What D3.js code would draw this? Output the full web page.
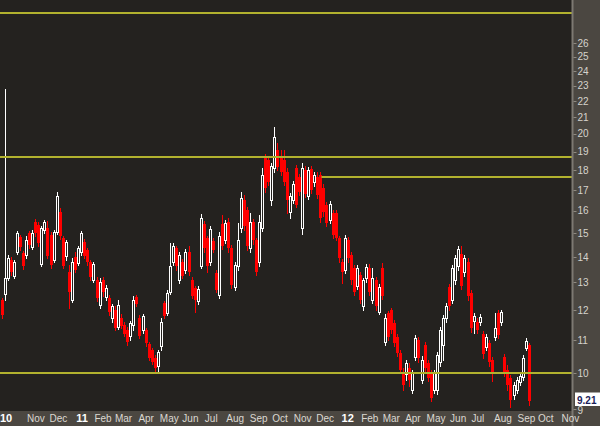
<!DOCTYPE html>
<html><head><meta charset="utf-8">
<script src="https://cdn.jsdelivr.net/npm/d3@7"></script>
<style>html,body{margin:0;padding:0;background:#24221f;overflow:hidden}svg{display:block}</style>
</head><body><svg id="c" width="600" height="426"></svg>
<script>
// ---------- data ----------
const firstSession = "2010-09-29";   // first session shown
const sessionStep = 3;               // weekdays between plotted candles
const open = [
12.36,12.58,13.17,13.88,13.25,14.20,14.83,14.16,14.08,15.01,
14.41,15.49,15.36,13.72,15.14,15.23,14.92,13.88,15.05,15.95,
14.79,14.04,13.40,12.36,14.00,13.76,14.20,14.62,14.28,13.80,
13.09,13.09,12.18,13.09,12.47,12.43,11.73,12.00,11.43,11.73,
11.50,11.33,11.13,11.50,12.47,11.73,11.33,11.33,10.88,10.69,
10.44,10.21,10.82,12.25,11.90,12.65,13.80,14.36,13.09,13.80,
13.48,14.20,13.09,12.79,12.32,13.64,15.40,14.79,13.80,14.66,
13.36,12.54,15.40,14.70,15.49,14.36,12.83,13.64,15.23,16.51,
16.04,14.36,15.49,14.70,13.80,15.23,18.71,18.54,16.51,18.12,
19.09,18.71,18.54,17.91,15.95,16.51,18.12,17.65,15.23,18.01,
16.71,18.06,17.40,17.65,17.75,17.10,16.28,15.58,15.90,15.90,
14.79,13.80,13.48,14.70,14.08,13.56,12.86,13.29,12.14,13.17,
13.56,12.36,13.09,11.93,13.56,10.94,11.90,12.00,11.56,11.10,
10.60,10.03,9.97,10.15,9.52,10.47,11.00,9.80,10.85,10.29,
10.00,9.52,9.52,10.32,10.85,11.73,12.83,12.36,13.09,13.64,
14.12,13.40,13.80,12.61,11.63,11.59,11.59,11.20,10.79,10.91,
10.38,11.10,11.90,11.59,10.47,10.09,9.86,9.38,9.52,9.74,
9.89,10.75,10.85];
const high = [
12.43,22.78,14.08,14.00,13.88,15.10,14.92,14.24,14.88,15.10,
15.14,15.63,15.49,15.32,15.58,15.53,15.05,15.14,16.90,16.13,
14.88,14.70,13.68,13.96,14.20,14.45,15.10,14.74,14.36,13.88,
13.80,13.21,13.17,13.21,12.90,12.54,12.22,12.14,12.36,11.86,
11.59,11.43,11.63,12.50,12.54,11.83,11.86,11.40,10.94,10.75,
10.53,10.69,11.73,12.32,12.72,14.57,14.57,14.45,14.20,13.92,
14.32,14.45,13.21,12.86,12.86,15.86,15.53,14.88,15.32,14.79,
13.48,15.05,15.81,15.58,15.67,14.49,13.80,15.45,16.90,16.75,
16.18,15.90,15.63,14.79,15.81,18.12,18.88,18.71,18.38,20.41,
19.48,19.09,19.09,18.12,16.85,17.45,18.27,17.80,18.38,18.22,
18.17,18.22,17.91,17.91,17.91,17.30,16.42,16.47,16.04,16.04,
14.88,13.92,14.92,14.83,14.20,13.68,13.68,13.40,13.17,13.72,
13.72,13.56,13.21,12.94,13.76,11.86,11.97,12.07,11.66,11.20,
10.69,10.15,10.38,10.29,10.09,11.17,11.10,10.50,10.94,10.38,
10.09,10.09,10.63,11.43,11.83,12.25,12.94,13.68,14.08,14.45,
14.45,14.08,13.96,12.72,11.90,11.73,11.86,11.30,11.20,11.00,
10.47,11.90,12.00,12.00,10.57,10.23,9.94,9.74,9.89,10.00,
10.53,11.07,10.91];
const low = [
11.73,12.36,13.09,13.29,13.17,14.12,14.28,13.52,13.96,14.36,
14.32,14.88,14.45,13.64,15.01,13.96,13.56,13.80,14.96,14.74,
13.56,13.88,12.07,12.29,13.40,13.68,14.08,13.96,13.68,13.09,
13.02,12.32,12.07,12.50,12.36,11.83,11.59,11.33,11.36,11.40,
11.13,10.85,11.00,11.33,12.14,11.07,11.23,10.82,10.38,10.26,
10.03,10.03,10.69,11.73,11.83,12.58,13.68,13.48,12.98,13.17,
13.36,13.29,12.43,11.93,12.22,13.56,14.20,13.40,13.68,14.20,
12.65,12.43,14.32,14.57,14.20,12.79,12.72,13.48,15.05,15.14,
14.28,14.20,14.53,13.29,13.64,15.10,16.90,17.25,16.28,17.91,
18.01,17.75,17.25,15.90,15.67,16.37,16.18,16.75,14.96,16.66,
16.56,16.85,17.20,16.61,15.49,15.76,15.32,15.45,14.79,14.70,
13.80,12.98,13.36,13.80,12.94,12.54,12.76,12.25,12.00,13.02,
12.54,12.25,12.00,11.86,12.39,10.85,11.00,11.23,10.82,10.50,
10.00,9.52,9.80,9.63,9.44,10.38,10.32,9.72,10.03,9.77,
9.22,9.44,9.41,10.21,10.38,11.59,12.00,12.25,12.94,13.48,
12.76,13.25,12.36,11.26,11.23,11.23,11.50,10.44,10.69,10.21,
9.77,11.00,11.07,11.50,9.91,9.52,9.07,9.28,9.44,9.66,
9.80,10.69,9.11];
const close = [
11.83,13.17,13.96,13.40,13.80,15.01,14.41,13.64,14.70,14.49,
15.01,15.01,14.57,15.23,15.49,14.04,13.68,15.05,16.71,14.88,
13.64,14.62,12.65,13.80,13.48,14.36,15.01,14.04,13.80,13.21,
13.72,12.43,13.02,12.65,12.79,11.93,12.14,11.40,12.18,11.46,
11.20,10.94,11.56,12.36,12.22,11.13,11.80,10.91,10.44,10.32,
10.15,10.63,11.59,11.80,12.61,13.64,14.45,13.64,14.08,13.25,
14.20,13.40,12.50,12.36,12.76,15.67,14.36,13.64,15.18,14.28,
12.72,14.88,14.45,15.45,14.36,12.90,13.68,14.70,16.61,15.32,
14.45,15.49,14.70,13.40,15.49,17.75,17.10,17.40,18.22,19.82,
18.17,17.91,17.40,16.51,16.71,17.30,16.28,16.90,18.12,16.80,
18.01,17.00,17.75,16.75,15.67,15.95,15.45,16.32,14.92,14.79,
13.96,13.40,14.79,13.96,13.09,12.65,13.56,12.36,13.09,13.60,
12.65,13.17,12.14,12.83,12.50,11.73,11.10,11.33,10.91,10.60,
10.09,9.66,10.29,9.80,10.00,11.07,10.44,10.38,10.15,9.86,
9.30,10.00,10.53,11.33,11.73,12.14,12.14,13.56,13.96,14.32,
12.86,13.96,12.50,11.40,11.80,11.33,11.76,10.57,11.10,10.32,
9.97,11.40,11.17,11.93,10.03,9.66,9.25,9.66,9.80,9.91,
10.44,10.97,9.21];
const priceTicks = [9,10,11,12,13,14,15,16,17,18,19,20,21,22,23,24,25,26];
const fullLevels = [28.39, 18.70, 10.00];
const partialLevels = [17.65];
const partialLevelFrom = ["2011-12-12"];
const lastPrice = 9.21;
const monthLabels = ["Jan","Feb","Mar","Apr","May","Jun","Jul","Aug","Sep","Oct","Nov","Dec"];
const axisMonths = ["2010-10","2010-11","2010-12","2011-01","2011-02","2011-03","2011-04","2011-05","2011-06","2011-07","2011-08","2011-09","2011-10","2011-11","2011-12","2012-01","2012-02","2012-03","2012-04","2012-05","2012-06","2012-07","2012-08","2012-09","2012-10","2012-11"];

// ---------- layout ----------
const W = 600, H = 426, plotR = 572, plotB = 410;
const BG = "#24221f", PANEL = "#4b4741";
const svg = d3.select("#c");

function parse(s){ const p = s.split("-").map(Number); return new Date(Date.UTC(p[0], p[1]-1, p[2]||1)); }
const t0 = parse(firstSession);
function weekdayIndex(d){
  let n = 0; const t = new Date(t0);
  while (t < d){ const w = t.getUTCDay(); if (w !== 0 && w !== 6) n++; t.setUTCDate(t.getUTCDate()+1); }
  return n;
}
function firstWeekday(d){ const t = new Date(d); while (t.getUTCDay() === 0 || t.getUTCDay() === 6) t.setUTCDate(t.getUTCDate()+1); return t; }

const x = d3.scaleLinear().domain([0, 560]).range([1.5, 1.5 + 560*1.022]);
const y = d3.scaleLog().domain([8.983, 29.48]).range([plotB, 0]);

svg.append("rect").attr("width", W).attr("height", H).attr("fill", BG);

const candles = open.map((o, i) => ({ idx: i*sessionStep, o, h: high[i], l: low[i], c: close[i] }));
const plot = svg.append("g").attr("shape-rendering", "crispEdges");

candles.forEach(d => {
  const cx = Math.round(x(d.idx));
  const up = d.c >= d.o;
  const col = up ? "#ffffff" : "#ff0000";
  plot.append("line").attr("x1", cx+0.5).attr("x2", cx+0.5)
    .attr("y1", Math.round(y(d.h))).attr("y2", Math.round(y(d.l))+1)
    .attr("stroke", col).attr("stroke-width", 1);
  const yt = Math.round(y(Math.max(d.o, d.c))), yb = Math.round(y(Math.min(d.o, d.c)));
  if (up) {
    plot.append("rect").attr("x", cx-1+0.5).attr("y", yt+0.5).attr("width", 2)
      .attr("height", Math.max(1, yb-yt)).attr("fill", BG).attr("stroke", col).attr("stroke-width", 1);
  } else {
    plot.append("rect").attr("x", cx-1).attr("y", yt).attr("width", 3)
      .attr("height", Math.max(2, yb-yt)).attr("fill", col);
  }
});

// horizontal levels
const lv = svg.append("g");
fullLevels.forEach(p => {
  lv.append("line").attr("x1", 0).attr("x2", plotR).attr("y1", y(p)).attr("y2", y(p))
    .attr("stroke", "#b2b22e").attr("stroke-width", 2);
});
partialLevels.forEach((p, i) => {
  const xs = x(weekdayIndex(parse(partialLevelFrom[i])));
  lv.append("line").attr("x1", xs).attr("x2", plotR).attr("y1", y(p)).attr("y2", y(p))
    .attr("stroke", "#b2b22e").attr("stroke-width", 2);
});

// right panel and bottom band
svg.append("rect").attr("x", plotR+1).attr("y", 0).attr("width", W-plotR-1).attr("height", H).attr("fill", PANEL);
svg.append("rect").attr("x", 0).attr("y", plotB+1).attr("width", W).attr("height", H-plotB-1).attr("fill", PANEL);
svg.append("rect").attr("x", plotR-0.5).attr("y", 0).attr("width", 2).attr("height", H).attr("fill", "#7d7972");

// right axis
const ra = svg.append("g").attr("font-family", "Liberation Sans, Arial, sans-serif").attr("font-size", 10);
const boxTop = Math.round(y(lastPrice)) - 8.5, boxH = 13.5;
priceTicks.forEach(t => {
  const yy = y(t);
  ra.append("line").attr("x1", plotR+1.5).attr("x2", plotR+4.5).attr("y1", Math.round(yy)+0.5).attr("y2", Math.round(yy)+0.5)
    .attr("stroke", "#8f8a82").attr("stroke-width", 1);
  // a label that would sit under the last-price box is nudged just below it
  const ty = (yy > boxTop - 4 && yy < boxTop + boxH + 4) ? boxTop + boxH + 4.5 : yy;
  ra.append("text").attr("x", plotR+5.5).attr("y", ty).attr("dy", "0.36em").attr("fill", "#d6d3cc").text(t);
});

// last price box
ra.append("rect").attr("x", plotR+3).attr("y", boxTop).attr("width", W-plotR-3).attr("height", boxH).attr("fill", "#ffffff");
ra.append("text").attr("x", plotR+5).attr("y", y(lastPrice)+3).attr("fill", "#1c1f5a")
  .attr("font-weight", "bold").attr("font-size", 10).text(lastPrice.toFixed(2));

// bottom axis
const ba = svg.append("g").attr("font-family", "Liberation Sans, Arial, sans-serif").attr("font-size", 10);
axisMonths.forEach((m, k) => {
  const d = firstWeekday(parse(m + "-01"));
  const xx = x(weekdayIndex(d));
  const mo = d.getUTCMonth();
  const isYear = mo === 0 || k === 0;
  if (isYear) {
    const lbl = String(d.getUTCFullYear()).slice(2);
    const t = ba.append("text").attr("y", 422).attr("fill", "#ffffff").attr("font-weight", "bold").attr("font-size", 11).text(lbl);
    if (k === 0) t.attr("x", 0).attr("text-anchor", "start");
    else t.attr("x", xx + 11).attr("text-anchor", "middle");
  } else {
    ba.append("text").attr("x", xx + 2).attr("y", 422).attr("fill", "#dcd9d2").text(monthLabels[mo]);
  }
});
</script></body></html>
